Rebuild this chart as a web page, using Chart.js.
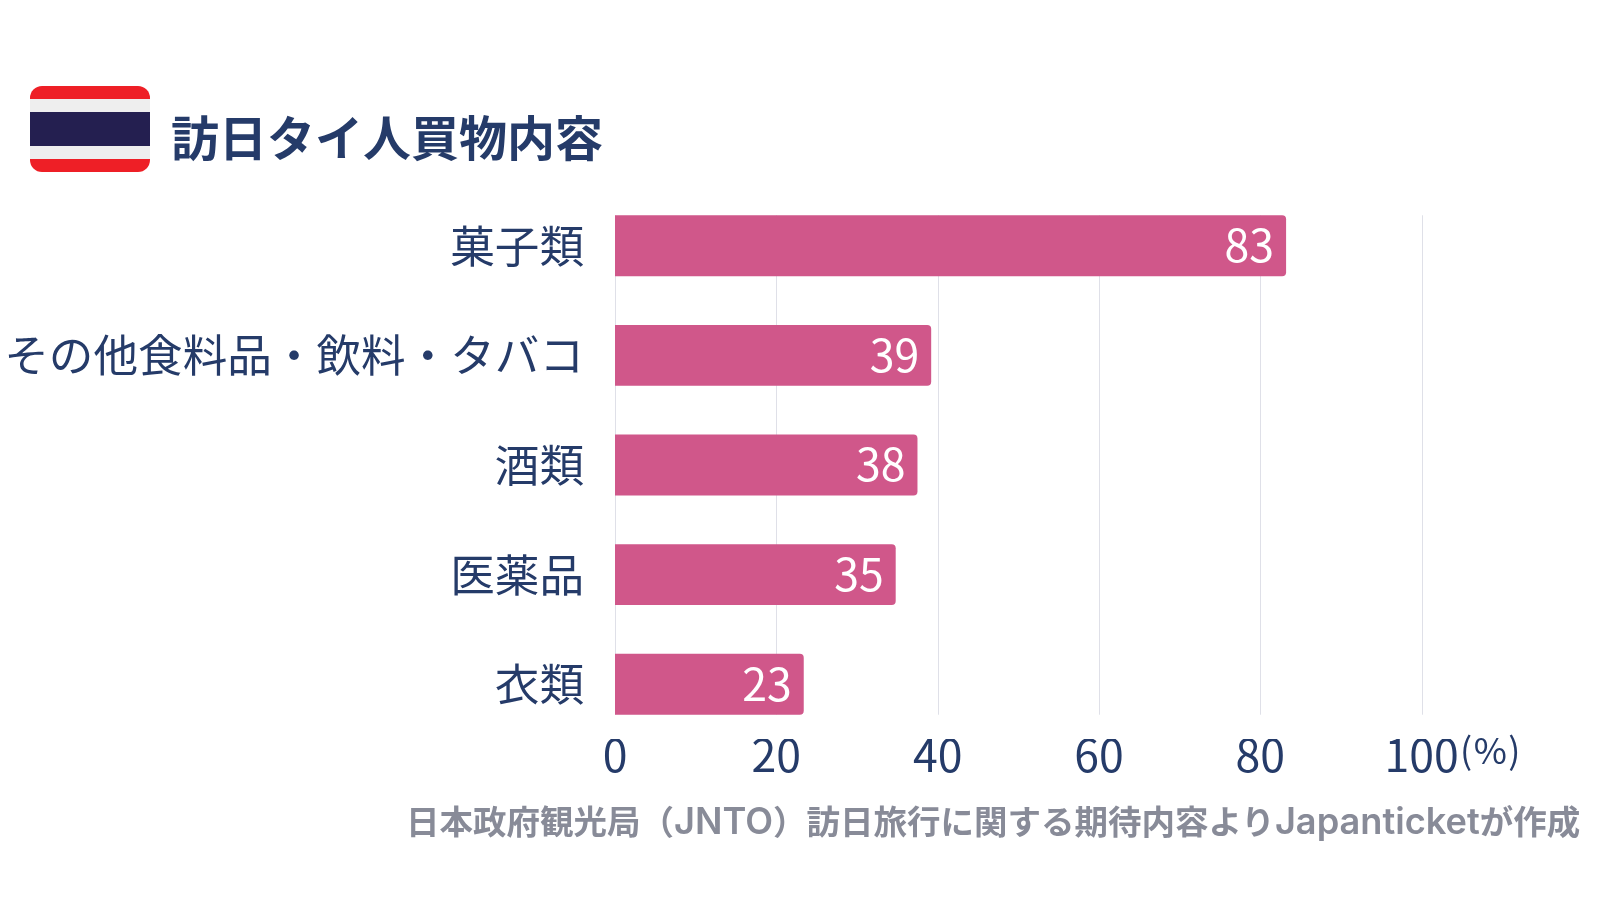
<!DOCTYPE html>
<html lang="ja">
<head>
    <meta charset="UTF-8">
    <title>訪日タイ人買物内容</title>
    <script src="https://cdnjs.cloudflare.com/ajax/libs/Chart.js/4.4.1/chart.umd.min.js"></script>
    <style>
        html, body { margin: 0; padding: 0; background: #fff; overflow: hidden; }
        body { width: 1600px; height: 900px; position: relative; font-family: "Noto Sans CJK JP", sans-serif; }
        canvas { position: absolute; left: 0; top: 0; }
        .flag {
            position: absolute; left: 30px; top: 86px; width: 120px; height: 86px;
            border-radius: 12px;
            background: linear-gradient(#ee1f26 0 13px, #eeeeee 13px 26.5px, #241f50 26.5px 60px, #eeeeee 60px 73px, #ee1f26 73px);
        }
        .title { position: absolute; left: 171px; top: 100px; font-size: 48px; line-height: 70px; font-weight: 700; color: #253b69; white-space: nowrap; }
        .unit { position: absolute; left: 1460px; top: 728px; font-size: 36px; line-height: 40px; letter-spacing: 1.5px; color: #253b69; }
        .source { position: absolute; left: 406px; top: 795px; font-size: 33.5px; line-height: 50px; font-weight: 700; color: #888b98; white-space: nowrap; }
        .source span { font-family: Inter, sans-serif; font-size: 36.2px; font-weight: 600; }
    </style>
</head>
<body>
    <canvas id="chart" width="1600" height="900"></canvas>
    <div class="flag"></div>
    <div class="title">訪日タイ人買物内容</div>
    <div class="unit">(%)</div>
    <div class="source">日本政府観光局（<span>JNTO</span>）訪日旅行に関する期待内容より<span>Japanticket</span>が作成</div>

    <script>
        const categories = ['菓子類', 'その他食料品・飲料・タバコ', '酒類', '医薬品', '衣類'];
        const values = [83.2, 39.2, 37.5, 34.8, 23.4];
        const xTicks = [0, 20, 40, 60, 80, 100];

        const navy = '#253b69';
        const fontFamily = '"Noto Sans CJK JP", sans-serif';

        // grid lines only run from the first bar to the last one
        const gridLines = {
            id: 'gridLines',
            beforeDatasetsDraw(chart) {
                const bars = chart.getDatasetMeta(0).data;
                const top = bars[0].y - bars[0].height / 2;
                const bottom = bars[bars.length - 1].y + bars[bars.length - 1].height / 2;
                const c = chart.ctx;
                c.save();
                c.strokeStyle = '#dfe0e8';
                c.lineWidth = 1;
                xTicks.forEach(t => {
                    const x = Math.round(chart.scales.x.getPixelForValue(t)) + 0.5;
                    c.beginPath();
                    c.moveTo(x, top);
                    c.lineTo(x, bottom);
                    c.stroke();
                });
                c.restore();
            }
        };

        const barLabels = {
            id: 'barLabels',
            afterDatasetsDraw(chart) {
                const c = chart.ctx;
                c.save();
                c.fillStyle = '#ffffff';
                c.font = '44.6px ' + fontFamily;
                c.textAlign = 'right';
                c.textBaseline = 'middle';
                chart.getDatasetMeta(0).data.forEach((bar, i) => {
                    c.fillText(Math.floor(values[i] + 0.5), bar.x - 12, bar.y - 0.5);
                });
                c.restore();
            }
        };

        new Chart(document.getElementById('chart').getContext('2d'), {
            type: 'bar',
            data: {
                labels: categories,
                datasets: [{
                    data: values,
                    backgroundColor: '#d0578a',
                    borderRadius: { topRight: 4, bottomRight: 4 },
                    borderSkipped: false,
                    barPercentage: 0.555,
                    categoryPercentage: 1
                }]
            },
            plugins: [gridLines, barLabels],
            options: {
                indexAxis: 'y',
                responsive: false,
                animation: false,
                layout: { padding: { top: 190.9, right: 178.4 } },
                plugins: { legend: { display: false }, tooltip: { enabled: false } },
                scales: {
                    x: {
                        min: 0,
                        max: 100,
                        afterBuildTicks: axis => { axis.ticks = xTicks.map(v => ({ value: v })); },
                        afterFit: axis => { axis.height = 160.9; },
                        grid: { display: false },
                        border: { display: false },
                        ticks: { color: navy, font: { family: fontFamily, size: 44.6 }, padding: -19, maxRotation: 0 }
                    },
                    y: {
                        afterFit: axis => { axis.width = 615; },
                        grid: { display: false },
                        border: { display: false },
                        ticks: { color: navy, font: { family: fontFamily, size: 44.6 }, padding: 23 }
                    }
                }
            }
        });
    </script>
</body>
</html>
